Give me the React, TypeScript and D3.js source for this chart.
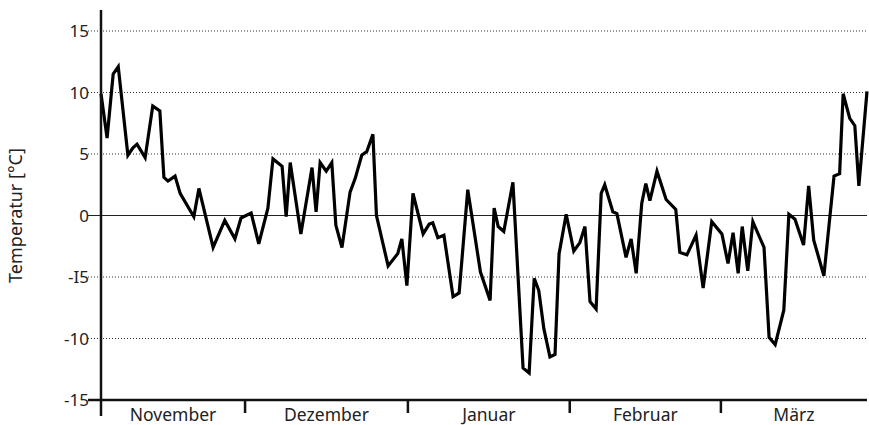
import React from "react";
import * as d3 from "d3";

// day offset from 1 November and daily temperature (°C)
const dayOffsets = [
  0, 1.2, 2.4, 3.4, 5.3, 6.3, 7.1, 8.7, 10.2, 11.6, 12.4, 13.2, 14.6, 15.6, 18.3, 19.3, 22.1, 24.4,
  26.4, 27.6, 29.6, 31.1, 32.9, 33.9, 35.7, 36.5, 37.3, 39.4, 41.6, 42.4, 43.2, 44.4, 45.5, 46.3,
  47.5, 49.1, 50.1, 51.4, 52.4, 53.6, 54.3, 56.6, 58.5, 59.3, 60.3, 61.5, 63.5, 64.7, 65.4, 66.4,
  67.6, 69.4, 70.6, 72.3, 74.8, 76.7, 77.5, 78.3, 79.4, 81.2, 83.2, 84.4, 85.4, 86.3, 87.3, 88.5,
  89.5, 90.3, 91.7, 93.2, 94.4, 95.4, 96.4, 97.6, 98.6, 99.3, 100.9, 101.7, 103.5, 104.5, 105.5,
  106.6, 107.4, 108.2, 109.6, 111.4, 113.3, 114.1, 115.5, 117.3, 118.7, 120.4, 122.4, 123.6, 124.6,
  125.6, 126.4, 127.5, 128.5, 130.7, 131.7, 132.9, 134.6, 135.6, 136.8, 138.5, 139.5, 140.5, 142.5,
  144.5, 145.6, 146.3, 147.6, 148.6, 149.4, 151
];
const temps = [
  9.9, 6.3, 11.5, 12.1, 4.9, 5.5, 5.8, 4.7, 8.9, 8.5, 3.1, 2.8, 3.2, 1.8, -0.1, 2.2, -2.6, -0.4,
  -1.9, -0.2, 0.2, -2.3, 0.6, 4.6, 4.0, -0.1, 4.3, -1.5, 3.9, 0.3, 4.3, 3.6, 4.3, -0.8,
  -2.6, 1.9, 3.0, 4.9, 5.2, 6.6, 0.0, -4.1, -3.1, -1.9, -5.7, 1.8, -1.5, -0.7, -0.6, -1.8,
  -1.6, -6.6, -6.3, 2.1, -4.6, -6.9, 0.6, -0.9, -1.3, 2.7, -12.4, -12.8, -5.1, -6.1, -9.2, -11.5,
  -11.3, -3.1, 0.1, -2.9, -2.2, -0.9, -7.0, -7.6, 1.8, 2.5, 0.3, 0.15, -3.4, -1.9, -4.7,
  1.0, 2.6, 1.2, 3.6, 1.3, 0.5, -3.0, -3.2, -1.6, -5.9, -0.5, -1.5, -3.9, -1.4,
  -4.7, -0.9, -4.5, -0.5, -2.6, -9.9, -10.5, -7.7, 0.1, -0.3, -2.4, 2.4, -2.0, -4.9,
  3.2, 3.4, 9.9, 7.9, 7.3, 2.4, 10.1
];

const months = ["November", "Dezember", "Januar", "Februar", "März"];
const monthBounds = [0, 28.4, 60.5, 92.4, 122.2, 151];
const yTicks = [15, 10, 5, 0, -5, -10, -15];
const yTickLabels = ["15", "10", "5", "0", "-I5", "-10", "-15"];
const gridValues = [15, 10, 5, -5, -10];

const W = 869;
const H = 425;
const FONT = "'Noto Sans', sans-serif";

export default function App() {
  const x = d3.scaleLinear().domain([0, 151]).range([101, 867]);
  const y = d3.scaleLinear().domain([-15, 15]).range([400, 31]);

  const points = dayOffsets.map((d, i) => [d, temps[i]] as [number, number]);
  const line = d3
    .line<[number, number]>()
    .x((d) => x(d[0]))
    .y((d) => y(d[1]));

  const gridLeft = 88;

  return (
    <svg
      width={W}
      height={H}
      style={{ position: "absolute", left: 0, top: 0, background: "#fff" }}
    >
      {gridValues.map((v) => (
        <line
          key={v}
          x1={gridLeft}
          x2={x(151)}
          y1={y(v)}
          y2={y(v)}
          stroke="#333"
          strokeWidth={1}
          strokeDasharray="1,2"
        />
      ))}
      <line x1={gridLeft} x2={x(151)} y1={y(0)} y2={y(0)} stroke="#222" strokeWidth={1.2} />

      {yTicks.map((v, i) => (
        <text
          key={v}
          x={gridLeft + 1}
          y={y(v)}
          dy="0.36em"
          textAnchor="end"
          fontFamily={FONT}
          fontSize={17}
          fill="#222"
        >
          {yTickLabels[i]}
        </text>
      ))}

      <text
        transform={`translate(22,${y(0)}) rotate(-90)`}
        textAnchor="middle"
        fontFamily={FONT}
        fontSize={18}
        fill="#222"
      >
        Temperatur [°C]
      </text>

      <path d={line(points) ?? ""} fill="none" stroke="#000" strokeWidth={3.2} strokeLinejoin="miter" />

      {/* axes */}
      <line x1={x(0)} x2={x(0)} y1={10} y2={416} stroke="#111" strokeWidth={2.5} />
      <line x1={gridLeft} x2={x(151)} y1={y(-15)} y2={y(-15)} stroke="#111" strokeWidth={2.5} />
      {monthBounds.slice(1, -1).map((d) => (
        <line key={d} x1={x(d)} x2={x(d)} y1={y(-15)} y2={413} stroke="#111" strokeWidth={2.5} />
      ))}
      {months.map((m, i) => (
        <text
          key={m}
          x={(x(monthBounds[i]) + x(monthBounds[i + 1])) / 2}
          y={421}
          textAnchor="middle"
          fontFamily={FONT}
          fontSize={17.5}
          fill="#222"
        >
          {m}
        </text>
      ))}
    </svg>
  );
}
